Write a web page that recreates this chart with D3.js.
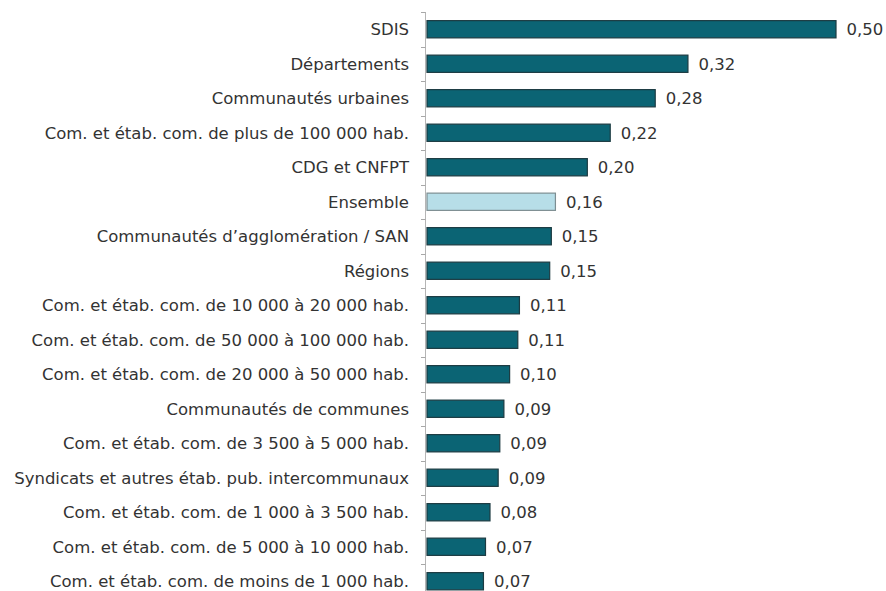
<!DOCTYPE html>
<html><head><meta charset="utf-8">
<script src="https://cdn.jsdelivr.net/npm/d3@7"></script>
<style>body{margin:0;background:#fff}svg{display:block}</style>
</head><body>
<script>
const categories = [
  "SDIS",
  "Départements",
  "Communautés urbaines",
  "Com. et étab. com. de plus de 100 000 hab.",
  "CDG et CNFPT",
  "Ensemble",
  "Communautés d’agglomération / SAN",
  "Régions",
  "Com. et étab. com. de 10 000 à 20 000 hab.",
  "Com. et étab. com. de 50 000 à 100 000 hab.",
  "Com. et étab. com. de 20 000 à 50 000 hab.",
  "Communautés de communes",
  "Com. et étab. com. de 3 500 à 5 000 hab.",
  "Syndicats et autres étab. pub. intercommunaux",
  "Com. et étab. com. de 1 000 à 3 500 hab.",
  "Com. et étab. com. de 5 000 à 10 000 hab.",
  "Com. et étab. com. de moins de 1 000 hab."
];
const values = [0.500, 0.319, 0.279, 0.224, 0.196, 0.157, 0.152, 0.150, 0.113, 0.111, 0.101, 0.094, 0.089, 0.087, 0.077, 0.0715, 0.069];
const highlight = ["Ensemble"];

const W = 886, H = 591;
const svg = d3.select("body").append("svg").attr("width", W).attr("height", H);

const x = d3.scaleLinear().domain([0, 0.5]).range([426.5, 835.5]);
const y = d3.scaleBand().domain(categories).range([12, 12 + 34.5 * categories.length]).paddingInner(0.5).paddingOuter(0.25);
const step = y.step();

const font = "'DejaVu Sans', sans-serif";
const fs = 16.5;
const fmt = v => d3.format(".2f")(v).replace(".", ",");

// axis line
svg.append("line").attr("x1", 425.5).attr("x2", 425.5).attr("y1", 12).attr("y2", H)
  .attr("stroke", "#b5b5b5").attr("stroke-width", 1);
// ticks at band boundaries
const bounds = d3.range(categories.length + 1).map(i => 12 + i * step);
svg.selectAll("line.tick").data(bounds).join("line").attr("class", "tick")
  .attr("x1", 421).attr("x2", 425.5)
  .attr("y1", d => Math.round(d) + 0.5).attr("y2", d => Math.round(d) + 0.5)
  .attr("stroke", "#a8a8a8");

// bars
svg.selectAll("rect.bar").data(categories).join("rect").attr("class", "bar")
  .attr("x", x(0) + 0.5)
  .attr("y", d => y(d))
  .attr("width", (d, i) => x(values[i]) - x(0))
  .attr("height", y.bandwidth())
  .attr("fill", d => highlight.includes(d) ? "#b7dee8" : "#0b6474")
  .attr("stroke", d => highlight.includes(d) ? "#7d8e92" : "#1c3b42")
  .attr("stroke-width", 1.2);

// category labels
svg.selectAll("text.cat").data(categories).join("text").attr("class", "cat")
  .attr("x", 409)
  .attr("y", d => y(d) + y.bandwidth() / 2)
  .attr("dy", "0.36em")
  .attr("text-anchor", "end")
  .attr("font-family", font).attr("font-size", fs)
  .attr("fill", "#333")
  .text(d => d);

// value labels
svg.selectAll("text.val").data(categories).join("text").attr("class", "val")
  .attr("x", (d, i) => x(values[i]) + 11)
  .attr("y", d => y(d) + y.bandwidth() / 2)
  .attr("dy", "0.36em")
  .attr("font-family", font).attr("font-size", fs)
  .attr("fill", "#333")
  .text((d, i) => fmt(values[i]));
</script>
</body></html>
